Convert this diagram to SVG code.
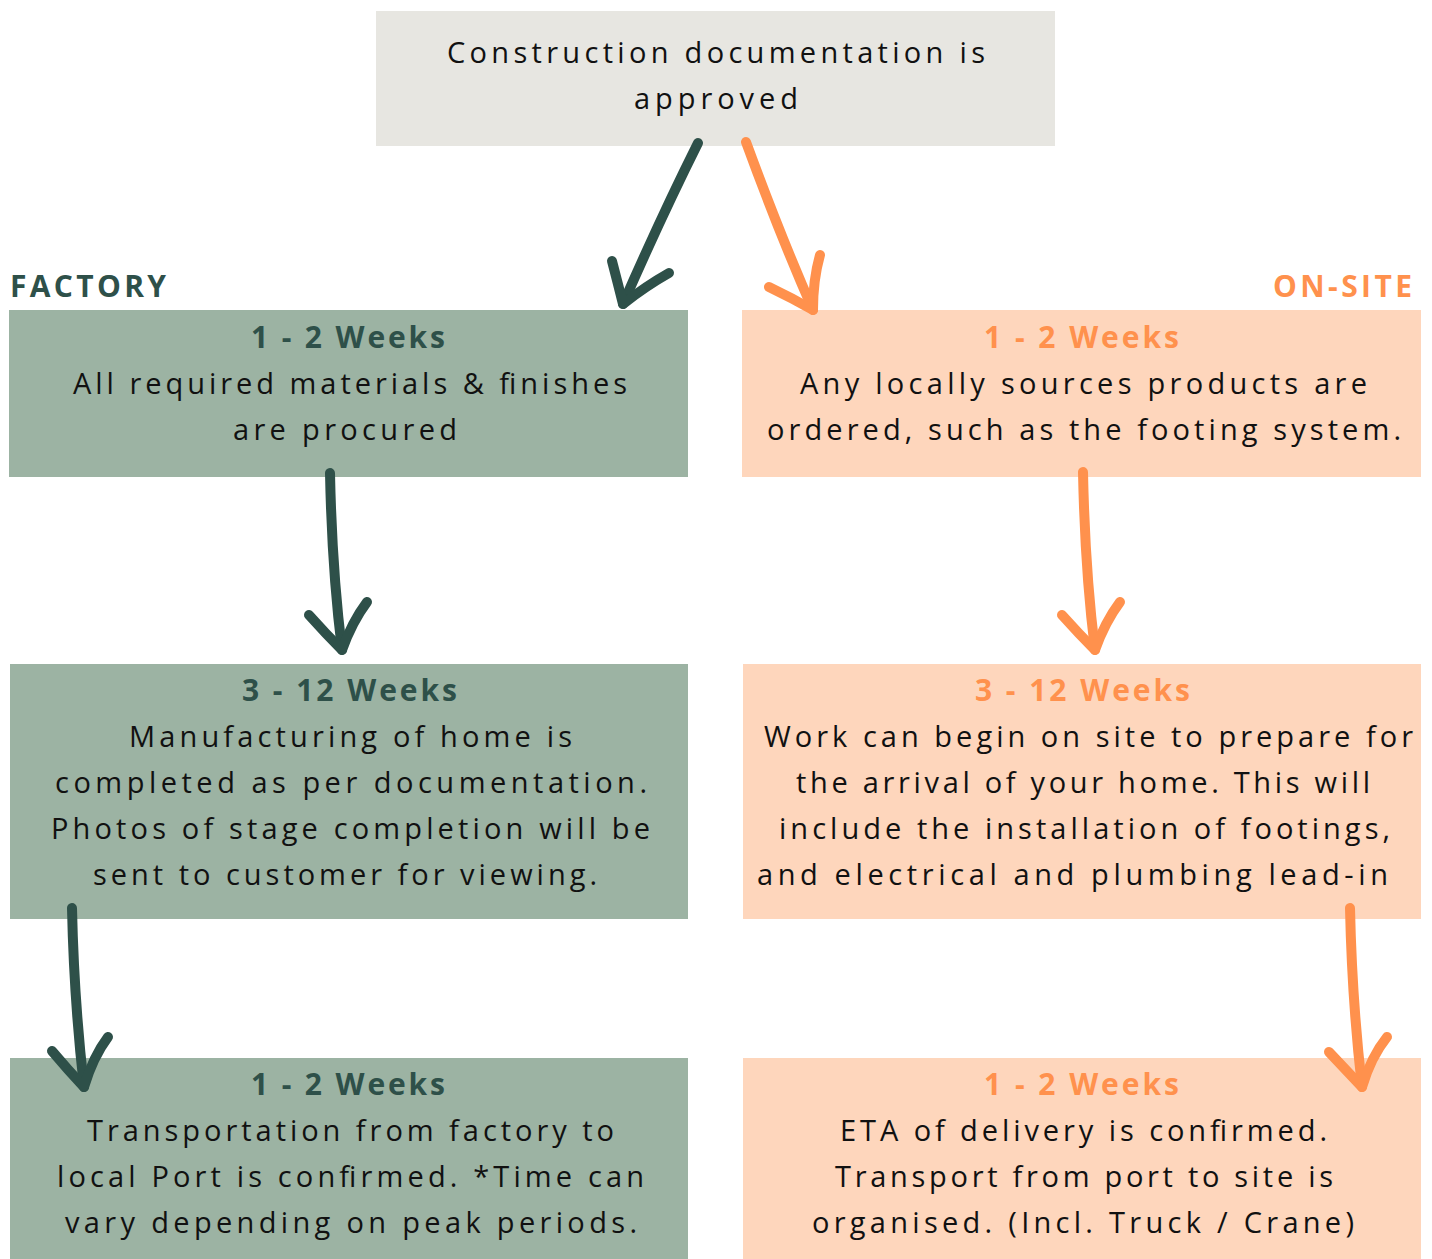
<svg xmlns="http://www.w3.org/2000/svg" width="1432" height="1259" viewBox="0 0 1432 1259">
<style>
.t{font-family:"Open Sans","Liberation Sans",sans-serif;font-size:29px;fill:#111;}
.h{font-family:"Open Sans","Liberation Sans",sans-serif;font-size:30px;font-weight:700;}
.g{fill:#2e5049;}
.o{fill:#ff914d;}
.gb{fill:#9cb3a3;}
.ob{fill:#fed6bc;}
.ag{fill:none;stroke:#2e5049;stroke-width:10;stroke-linecap:round;stroke-linejoin:round;}
.ao{fill:none;stroke:#ff914d;stroke-width:10;stroke-linecap:round;stroke-linejoin:round;}
</style>
<rect width="1432" height="1259" fill="#ffffff"/>
<g id="start">
<rect x="376" y="11" width="679" height="135" fill="#e7e6e1"/>
<text class="t" x="447" y="63" textLength="538" lengthAdjust="spacing">Construction documentation is</text>
<text class="t" x="634" y="109" textLength="164" lengthAdjust="spacing">approved</text>
</g>
<g id="label-factory">
<text class="h g" x="10" y="297" textLength="156" lengthAdjust="spacing">FACTORY</text>
</g>
<g id="label-onsite">
<text class="h o" x="1273" y="297" textLength="139" lengthAdjust="spacing">ON-SITE</text>
</g>
<g id="factory-1">
<rect class="gb" x="9" y="310" width="679" height="167"/>
<text class="h g" x="251" y="348" textLength="194" lengthAdjust="spacing">1 - 2 Weeks</text>
<text class="t" x="73" y="394" textLength="554" lengthAdjust="spacing">All required materials &amp; finishes</text>
<text class="t" x="233" y="440" textLength="224" lengthAdjust="spacing">are procured</text>
</g>
<g id="onsite-1">
<rect class="ob" x="742" y="310" width="679" height="167"/>
<text class="h o" x="984" y="348" textLength="195" lengthAdjust="spacing">1 - 2 Weeks</text>
<text class="t" x="800" y="394" textLength="567" lengthAdjust="spacing">Any locally sources products are</text>
<text class="t" x="767" y="440" textLength="634" lengthAdjust="spacing">ordered, such as the footing system.</text>
</g>
<g id="factory-2">
<rect class="gb" x="10" y="664" width="678" height="255"/>
<text class="h g" x="242" y="701" textLength="215" lengthAdjust="spacing">3 - 12 Weeks</text>
<text class="t" x="129" y="747" textLength="443" lengthAdjust="spacing">Manufacturing of home is</text>
<text class="t" x="55" y="793" textLength="592" lengthAdjust="spacing">completed as per documentation.</text>
<text class="t" x="51" y="839" textLength="599" lengthAdjust="spacing">Photos of stage completion will be</text>
<text class="t" x="93" y="885" textLength="504" lengthAdjust="spacing">sent to customer for viewing.</text>
</g>
<g id="onsite-2">
<rect class="ob" x="743" y="664" width="678" height="255"/>
<text class="h o" x="975" y="701" textLength="215" lengthAdjust="spacing">3 - 12 Weeks</text>
<text class="t" x="764" y="747" textLength="649" lengthAdjust="spacing">Work can begin on site to prepare for</text>
<text class="t" x="796" y="793" textLength="574" lengthAdjust="spacing">the arrival of your home. This will</text>
<text class="t" x="779" y="839" textLength="611" lengthAdjust="spacing">include the installation of footings,</text>
<text class="t" x="757" y="885" textLength="631" lengthAdjust="spacing">and electrical and plumbing lead-in</text>
</g>
<g id="factory-3">
<rect class="gb" x="10" y="1058" width="678" height="201"/>
<text class="h g" x="251" y="1095" textLength="194" lengthAdjust="spacing">1 - 2 Weeks</text>
<text class="t" x="87" y="1141" textLength="527" lengthAdjust="spacing">Transportation from factory to</text>
<text class="t" x="57" y="1187" textLength="587" lengthAdjust="spacing">local Port is confirmed. *Time can</text>
<text class="t" x="65" y="1233" textLength="572" lengthAdjust="spacing">vary depending on peak periods.</text>
</g>
<g id="onsite-3">
<rect class="ob" x="743" y="1058" width="678" height="201"/>
<text class="h o" x="984" y="1095" textLength="195" lengthAdjust="spacing">1 - 2 Weeks</text>
<text class="t" x="840" y="1141" textLength="487" lengthAdjust="spacing">ETA of delivery is confirmed.</text>
<text class="t" x="835" y="1187" textLength="498" lengthAdjust="spacing">Transport from port to site is</text>
<text class="t" x="812" y="1233" textLength="542" lengthAdjust="spacing">organised. (Incl. Truck / Crane)</text>
</g>
<g id="connectors">
<path class="ag" d="M698,143 Q662,215 623,304"/>
<path class="ag" d="M612,261 Q618,284 623,304 Q646,286 669,273"/>
<path class="ao" d="M746,142 Q780,235 813,310"/>
<path class="ao" d="M769,287 Q792,298 813,310 Q813,280 820,255"/>
<path class="ag" d="M330,473 Q332,570 342,650"/>
<path class="ag" d="M309,615 Q326,634 342,650 Q352,622 367,602"/>
<path class="ao" d="M1083,472 Q1085,570 1095,650"/>
<path class="ao" d="M1062,615 Q1079,634 1095,650 Q1105,622 1120,602"/>
<path class="ag" d="M72,908 Q74,1000 84,1087"/>
<path class="ag" d="M52,1051 Q68,1070 84,1087 Q93,1057 108,1037"/>
<path class="ao" d="M1350,908 Q1352,1000 1362,1087"/>
<path class="ao" d="M1329,1052 Q1346,1070 1362,1087 Q1371,1057 1387,1037"/>
</g>
</svg>
